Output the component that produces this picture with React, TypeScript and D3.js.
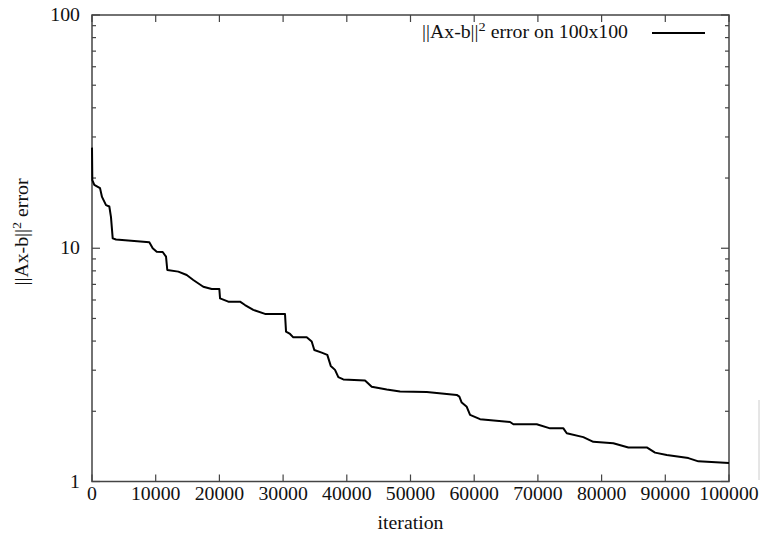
import React, { useEffect, useRef } from "react";
import * as d3 from "d3";

// iterations, with the error at each one
var iterations = [
  0, 50, 360, 1260, 1570, 2200, 2720, 2980, 3250, 3770, 9000, 9530, 10160,
  11100, 11620, 11820, 13550, 14870, 15900, 17470, 18790, 19990, 20100, 21400,
  23240, 24020, 25320, 27160, 30300, 30460, 31090, 31600, 33710, 34490, 34900,
  36060, 36940, 37480, 38150, 38670, 39450, 42860, 43910, 46270, 48360, 52550,
  57260, 57670, 58040, 58830, 59350, 60920, 65630, 66150, 69820, 71910, 74000,
  74530, 77130, 78700, 81840, 84200, 87090, 88390, 90230, 93620, 95190, 100000
];
var errors = [
  27, 19.6, 18.7, 18.1, 16.6, 15.3, 15.1, 13.6, 11.03, 10.9, 10.6, 10.0, 9.67,
  9.64, 9.2, 8.07, 7.94, 7.68, 7.31, 6.84, 6.69, 6.69, 6.1, 5.9, 5.9, 5.71,
  5.44, 5.23, 5.22, 4.39, 4.29, 4.15, 4.15, 3.98, 3.66, 3.57, 3.49, 3.13, 3.01,
  2.8, 2.74, 2.71, 2.55, 2.48, 2.43, 2.42, 2.35, 2.31, 2.18, 2.09, 1.93, 1.85,
  1.8, 1.76, 1.76, 1.69, 1.69, 1.61, 1.55, 1.48, 1.46, 1.4, 1.4, 1.33, 1.3,
  1.26, 1.22, 1.2
];
var xTicks = [0, 10000, 20000, 30000, 40000, 50000, 60000, 70000, 80000, 90000, 100000];
var yMajor = [1, 10, 100];
var yMinor = [2, 3, 4, 5, 6, 7, 8, 9, 20, 30, 40, 50, 60, 70, 80, 90];

const FONT = "'Liberation Serif', 'Times New Roman', serif";
const STRETCH = 1.1; // the reference text is a bit wider than plain Times

export default function App() {
  const ref = useRef<SVGSVGElement>(null);

  useEffect(() => {
    var svg = d3.select(ref.current);
    svg.selectAll("*").remove();

    var left = 92, right = 729, top = 15, bottom = 481.5;
    var x = d3.scaleLinear().domain([0, 100000]).range([left, right]);
    var y = d3.scaleLog().domain([1, 100]).range([bottom, top]);
    var axisColor = "#444";

    var label = (px: number, py: number, anchor: string, rotate?: number) =>
      svg
        .append("text")
        .attr(
          "transform",
          "translate(" + px + "," + py + ")" +
            (rotate ? " rotate(" + rotate + ")" : "") +
            " scale(" + STRETCH + ",1)"
        )
        .attr("text-anchor", anchor)
        .attr("font-family", FONT)
        .attr("font-size", 18)
        .attr("fill", "#111");

    // frame
    svg
      .append("rect")
      .attr("x", left)
      .attr("y", top)
      .attr("width", right - left)
      .attr("height", bottom - top)
      .attr("fill", "none")
      .attr("stroke", axisColor)
      .attr("stroke-width", 1.5);

    // x ticks, bottom and top (mirrored)
    xTicks.forEach(t => {
      svg.append("line")
        .attr("x1", x(t)).attr("x2", x(t))
        .attr("y1", bottom).attr("y2", bottom - 7)
        .attr("stroke", axisColor).attr("stroke-width", 1.2);
      svg.append("line")
        .attr("x1", x(t)).attr("x2", x(t))
        .attr("y1", top).attr("y2", top + 7)
        .attr("stroke", axisColor).attr("stroke-width", 1.2);
      label(x(t), 500, "middle").text(t);
    });

    // y ticks, left and right
    yMajor.forEach(t => {
      [[left, 1], [right, -1]].forEach(([x0, dir]) => {
        svg.append("line")
          .attr("x1", x0).attr("x2", x0 + dir * 8)
          .attr("y1", y(t)).attr("y2", y(t))
          .attr("stroke", axisColor).attr("stroke-width", 1.2);
      });
      label(80, y(t) + 6, "end").text(t);
    });
    yMinor.forEach(t => {
      [[left, 1], [right, -1]].forEach(([x0, dir]) => {
        svg.append("line")
          .attr("x1", x0).attr("x2", x0 + dir * 4)
          .attr("y1", y(t)).attr("y2", y(t))
          .attr("stroke", axisColor).attr("stroke-width", 1.2);
      });
    });

    // axis titles
    label((left + right) / 2, 529, "middle").text("iteration");

    var yTitle = label(28, 232, "middle", -90);
    yTitle.append("tspan").text("||Ax-b||");
    yTitle.append("tspan").attr("dy", -7).attr("font-size", 13).text("2");
    yTitle.append("tspan").attr("dy", 7).text(" error");

    // key
    var key = label(628, 38, "end");
    key.append("tspan").text("||Ax-b||");
    key.append("tspan").attr("dy", -7).attr("font-size", 13).text("2");
    key.append("tspan").attr("dy", 7).text(" error on 100x100");
    svg.append("line")
      .attr("x1", 652).attr("x2", 705)
      .attr("y1", 33).attr("y2", 33)
      .attr("stroke", "#000").attr("stroke-width", 2);

    // the error curve
    var line = d3.line<number>()
      .x((d, i) => x(iterations[i]))
      .y(d => y(d));
    svg.append("path")
      .datum(errors)
      .attr("d", line)
      .attr("fill", "none")
      .attr("stroke", "#000")
      .attr("stroke-width", 2)
      .attr("stroke-linejoin", "round");

    // faint edge mark at the right border of the picture
    svg.append("line")
      .attr("x1", 759).attr("x2", 759)
      .attr("y1", 400).attr("y2", 480)
      .attr("stroke", "#ccc").attr("stroke-width", 1);
  }, []);

  return (
    <svg
      ref={ref}
      width={760}
      height={539}
      style={{ position: "absolute", left: 0, top: 0, background: "#fff" }}
    />
  );
}
